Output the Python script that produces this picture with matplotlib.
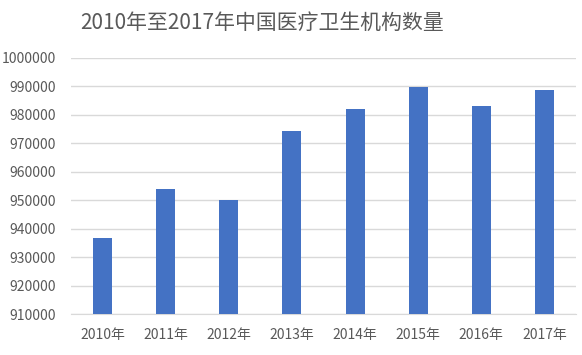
import matplotlib.pyplot as plt

plt.rcParams['font.family'] = ['Noto Sans CJK SC', 'DejaVu Sans']

years = ['2010年', '2011年', '2012年', '2013年', '2014年', '2015年', '2016年', '2017年']
counts = [936800, 954100, 950200, 974200, 982200, 989900, 983200, 988900]
y_ticks = list(range(910000, 1000001, 10000))

fig = plt.figure(figsize=(5.82, 3.55), dpi=100)
ax = fig.add_axes([71 / 582, 1 - 314 / 355, 505 / 582, (314 - 58) / 355])

ax.bar(range(len(years)), counts, width=0.3, color='#4472C4', zorder=3)

ax.set_xlim(-0.5, len(years) - 0.5)
ax.set_ylim(910000, 1000000)
ax.set_yticks(y_ticks)
ax.set_yticklabels([str(t) for t in y_ticks])
ax.set_xticks(range(len(years)))
ax.set_xticklabels(years)

ax.grid(True, axis='y', color='#d9d9d9', linewidth=1, zorder=0)
for side in ['top', 'right', 'left']:
    ax.spines[side].set_visible(False)
ax.spines['bottom'].set_color('#d9d9d9')
ax.tick_params(axis='both', length=0, labelsize=10, labelcolor='#595959')
ax.tick_params(axis='y', pad=11)
ax.tick_params(axis='x', pad=10)

fig.text(262 / 582, 1 - 23 / 355, '2010年至2017年中国医疗卫生机构数量', ha='center', va='center',
         fontsize=15, color='#595959')

fig.savefig('out.png', dpi=100)
